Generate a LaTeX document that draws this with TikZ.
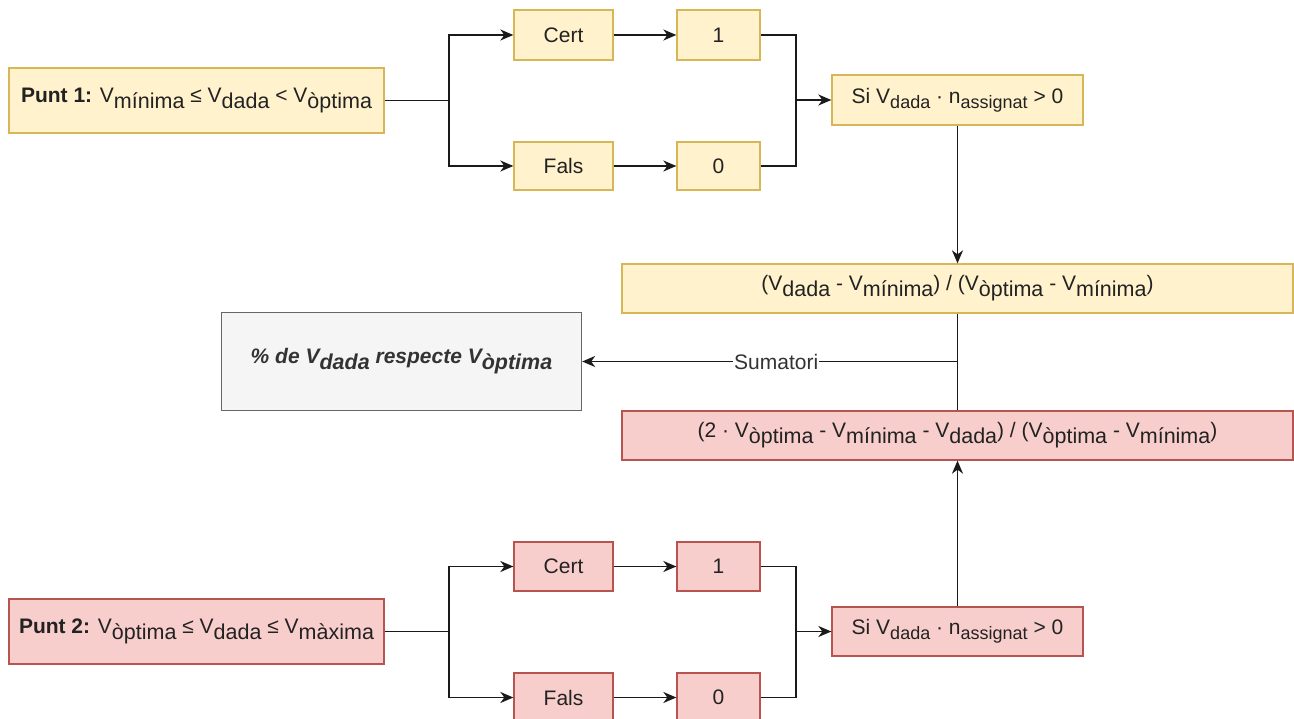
\documentclass[tikz,border=0pt]{standalone}
\usepackage{fontspec}
\setmainfont{Liberation Sans}
\usetikzlibrary{arrows.meta}
\definecolor{yfill}{HTML}{FFF2CC}
\definecolor{ydraw}{HTML}{D6B656}
\definecolor{rfill}{HTML}{F8CECC}
\definecolor{rdraw}{HTML}{B85450}
\definecolor{gfill}{HTML}{F5F5F5}
\definecolor{gdraw}{HTML}{666666}
\definecolor{txt}{HTML}{222222}
\definecolor{gtxt}{HTML}{333333}
\definecolor{lnc}{HTML}{1A1A1A}
\newcommand\mainsz{\fontsize{21}{24}\selectfont}
\newcommand\Sb[1]{\raisebox{-6pt}{\fontsize{21.5}{21.5}\selectfont #1}}
\newcommand\Ss[1]{\raisebox{-5pt}{\fontsize{18}{18}\selectfont #1}}
\tikzset{
  base/.style={line width=1.3pt, inner sep=0pt, text=txt, font=\mainsz},
  yb/.style={base, draw=ydraw, fill=yfill},
  rb/.style={base, draw=rdraw, fill=rfill},
  gb/.style={base, draw=gdraw, fill=gfill, text=gtxt, font=\mainsz\bfseries\itshape},
  arr/.style={-{Stealth[length=13pt,width=11pt,inset=4pt]}, line width=1.6pt, draw=lnc},
  ln/.style={line width=1.6pt, draw=lnc},
}
\begin{document}
\begin{tikzpicture}[x=1pt,y=-1pt]
\useasboundingbox (0,0) rectangle (1294,719);
% top branch
\node[yb, minimum width=375pt, minimum height=65pt] (p1) at (196.5,100.5) {\textbf{Punt 1:} V\Sb{mínima} ≤ V\Sb{dada} < V\Sb{òptima}};
\node[yb, minimum width=99pt, minimum height=50pt] (c1) at (563.5,35) {Cert};
\node[yb, minimum width=83pt, minimum height=50pt] (o1) at (718.5,35) {1};
\node[yb, minimum width=99pt, minimum height=48pt] (f1) at (563.5,166) {Fals};
\node[yb, minimum width=83pt, minimum height=48pt] (z1) at (718.5,166) {0};
\node[yb, minimum width=251pt, minimum height=50pt] (s1) at (957.5,100) {Si V\Ss{dada} · n\Ss{assignat} > 0};
\coordinate (b1) at (449,100.5);
\coordinate (m1) at (796,100);
% middle
\node[yb, minimum width=671pt, minimum height=49pt] (e1) at (957.5,288.5) {(V\Sb{dada} - V\Sb{mínima}) / (V\Sb{òptima} - V\Sb{mínima})};
\node[rb, minimum width=671pt, minimum height=49pt] (e2) at (957.5,435.5) {(2 · V\Sb{òptima} - V\Sb{mínima} - V\Sb{dada}) / (V\Sb{òptima} - V\Sb{mínima})};
\node[gb, minimum width=360pt, minimum height=98pt] (g) at (401.5,361.5) {\% de V\Sb{dada} respecte V\Sb{òptima}};
\coordinate (j) at (957.5,361.5);
% bottom branch
\node[rb, minimum width=375pt, minimum height=65pt] (p2) at (196.5,631.5) {\textbf{Punt 2:} V\Sb{òptima} ≤ V\Sb{dada} ≤ V\Sb{màxima}};
\node[rb, minimum width=99pt, minimum height=49pt] (c2) at (563.5,566.5) {Cert};
\node[rb, minimum width=83pt, minimum height=49pt] (o2) at (718.5,566.5) {1};
\node[rb, minimum width=99pt, minimum height=49pt] (f2) at (563.5,697.5) {Fals};
\node[rb, minimum width=83pt, minimum height=49pt] (z2) at (718.5,697.5) {0};
\node[rb, minimum width=251pt, minimum height=49pt] (s2) at (957.5,631.5) {Si V\Ss{dada} · n\Ss{assignat} > 0};
\coordinate (b2) at (449,631.5);
\coordinate (m2) at (796,631.5);
% connectors top
\draw[ln] (p1.east) -- (b1);
\draw[arr] (b1) |- (c1.west);
\draw[arr] (b1) |- (f1.west);
\draw[arr] (c1) -- (o1);
\draw[arr] (f1) -- (z1);
\draw[ln] (o1.east) -| (m1);
\draw[ln] (z1.east) -| (m1);
\draw[arr] (m1) -- (s1.west);
\draw[arr] (s1.south -| j) -- (e1.north -| j);
% middle
\draw[ln] (e1.south -| j) -- (e2.north -| j);
\draw[arr] (j) -- node[pos=0.483, fill=white, inner sep=1pt, text=gtxt, font=\mainsz] {Sumatori} (g.east);
% bottom
\draw[ln] (p2.east) -- (b2);
\draw[arr] (b2) |- (c2.west);
\draw[arr] (b2) |- (f2.west);
\draw[arr] (c2) -- (o2);
\draw[arr] (f2) -- (z2);
\draw[ln] (o2.east) -| (m2);
\draw[ln] (z2.east) -| (m2);
\draw[arr] (m2) -- (s2.west);
\draw[arr] (s2.north -| j) -- (e2.south -| j);
\end{tikzpicture}
\end{document}
